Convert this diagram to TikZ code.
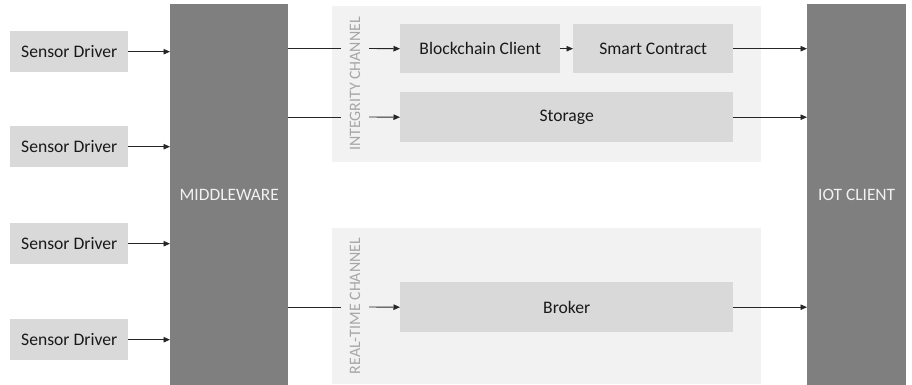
\documentclass[tikz,border=0pt]{standalone}
\usepackage{fontspec}
\setmainfont{Carlito}
\usetikzlibrary{arrows.meta}
\definecolor{boxgray}{HTML}{D9D9D9}
\definecolor{darkgray}{HTML}{7F7F7F}
\definecolor{bggray}{HTML}{F2F2F2}
\definecolor{labelgray}{HTML}{A6A6A6}
\definecolor{linegray}{HTML}{262626}
\begin{document}
\begin{tikzpicture}[x=1pt,y=-1pt,
  box/.style={fill=boxgray, draw=none, inner sep=0pt, anchor=north west,
    font=\fontsize{17.6}{20}\selectfont, text=black!90},
  bigbox/.style={fill=darkgray, draw=none, inner sep=0pt, anchor=north west,
    font=\fontsize{17.4}{20}\selectfont, text=bggray},
  chan/.style={fill=bggray, draw=none, inner sep=0pt, anchor=north west},
  chanlabel/.style={rotate=90, text=labelgray, inner sep=0pt,
    font=\fontsize{15.9}{18}\selectfont},
  arr/.style={draw=linegray, line width=0.9pt, -{Triangle[length=6.5pt,width=5.5pt]}},
  ln/.style={draw=linegray, line width=0.9pt}
]
\useasboundingbox (0,0) rectangle (912,385);
% sensor drivers
\node[box, minimum width=118pt, minimum height=41pt] (s1) at (10,31) {Sensor Driver};
\node[box, minimum width=118pt, minimum height=41pt] (s2) at (10,126) {Sensor Driver};
\node[box, minimum width=118pt, minimum height=41pt] (s3) at (10,223) {Sensor Driver};
\node[box, minimum width=118pt, minimum height=41pt] (s4) at (10,319) {Sensor Driver};
% middleware and iot
\node[bigbox, minimum width=118pt, minimum height=381pt] (mw) at (170,4) {MIDDLEWARE};
\node[bigbox, minimum width=99pt, minimum height=381pt] (iot) at (807,4) {IOT CLIENT};
% channels
\node[chan, minimum width=429pt, minimum height=156pt] (ic) at (332,6) {};
\node[chan, minimum width=429pt, minimum height=156pt] (rc) at (332,228) {};
\node[chanlabel] (icl) at (355,84) {INTEGRITY CHANNEL};
\node[chanlabel] (rcl) at (355,306) {REAL-TIME CHANNEL};
% inner boxes
\node[box, minimum width=160pt, minimum height=49pt] (bc) at (400,24) {Blockchain Client};
\node[box, minimum width=160pt, minimum height=49pt] (sc) at (573,24) {Smart Contract};
\node[box, minimum width=333pt, minimum height=50pt] (st) at (400,92) {Storage};
\node[box, minimum width=333pt, minimum height=50pt] (br) at (400,282) {Broker};
% gap coordinates
\coordinate (g1a) at (341,48.5);
\coordinate (g1b) at (369,48.5);
\coordinate (g2a) at (341,117);
\coordinate (g2b) at (369,117);
\coordinate (g3a) at (341,307);
\coordinate (g3b) at (369,307);
% sensor arrows
\draw[arr] (s1.east) -- (mw.west |- s1.east);
\draw[arr] (s2.east) -- (mw.west |- s2.east);
\draw[arr] (s3.east) -- (mw.west |- s3.east);
\draw[arr] (s4.east) -- (mw.west |- s4.east);
% middleware outputs
\draw[ln] (mw.east |- g1a) -- (g1a);
\draw[arr] (g1b) -- (bc.west);
\draw[ln] (mw.east |- g2a) -- (g2a);
\draw[arr] (g2b) -- (st.west);
\draw[ln] (mw.east |- g3a) -- (g3a);
\draw[arr] (g3b) -- (br.west);
% inner
\draw[arr] (bc.east) -- (sc.west);
% to iot
\draw[arr] (sc.east) -- (iot.west |- sc.east);
\draw[arr] (st.east) -- (iot.west |- st.east);
\draw[arr] (br.east) -- (iot.west |- br.east);
\end{tikzpicture}
\end{document}
